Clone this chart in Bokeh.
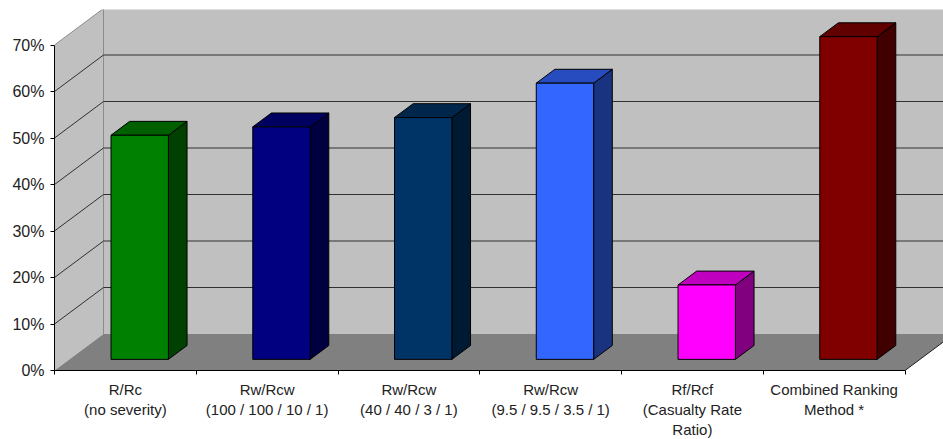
from bokeh.plotting import figure
from bokeh.embed import file_html
from bokeh.resources import INLINE
from bokeh.models import FixedTicker, Range1d

# ---- data ----
categories = ["R/Rc\n(no severity)", "Rw/Rcw\n(100 / 100 / 10 / 1)", "Rw/Rcw\n(40 / 40 / 3 / 1)",
              "Rw/Rcw\n(9.5 / 9.5 / 3.5 / 1)", "Rf/Rcf\n(Casualty Rate\nRatio)", "Combined Ranking\nMethod *"]
values = [48.2, 50.0, 52.0, 59.4, 16.0, 69.4]
front_colors = ["#008000", "#000080", "#003366", "#3366FF", "#FF00FF", "#800000"]
top_colors = ["#006000", "#000060", "#00264C", "#264CBF", "#BF00BF", "#600000"]
side_colors = ["#004000", "#000040", "#001A33", "#1A3380", "#800080", "#400000"]
y_ticks = [0, 10, 20, 30, 40, 50, 60, 70]

# ---- 3D box geometry, in axis units ----
SLOT_PX, PCT_PX = 141.75, 4.65
DX, DY = 49 / SLOT_PX, 36.5 / PCT_PX
BAR_W = 57.4 / SLOT_PX
D0, D1 = 0.305, 0.685
BAR_SHIFT = (1 - BAR_W) / 2 - 0.6 / SLOT_PX
N = len(categories)
FRAME_W, FRAME_H = 889, 361
XMAX, YMAX = FRAME_W / SLOT_PX, FRAME_H / PCT_PX

p = figure(width=943, height=439, output_backend="svg", toolbar_location=None,
           x_range=Range1d(0, XMAX), y_range=Range1d(0, YMAX),
           frame_width=FRAME_W, frame_height=FRAME_H,
           min_border_left=54, min_border_right=0, min_border_top=9, min_border_bottom=69)
p.outline_line_color = None
p.grid.visible = False
p.background_fill_color = "white"


def pr(x, y, d):
    return x + d * DX, y + d * DY


def face(pts):
    xs, ys = zip(*pts)
    return list(xs), list(ys)


WALL, FLOOR = "#C0C0C0", "#808080"
# back wall, side wall, floor
for pts, col in [([pr(0, 0, 1), pr(XMAX + 1, 0, 1), pr(XMAX + 1, 70, 1), pr(0, 70, 1)], WALL),
                 ([pr(0, 0, 0), pr(0, 0, 1), pr(0, 70, 1), pr(0, 70, 0)], WALL),
                 ([pr(0, 0, 0), pr(N, 0, 0), pr(N, 0, 1), pr(0, 0, 1)], FLOOR)]:
    xs, ys = face(pts)
    p.patch(xs, ys, fill_color=col, line_color=None)

# wall edges
edge = "#8C8C8C"
for a, b in [(pr(0, 0, 1), pr(0, 70, 1)), (pr(0, 70, 1), pr(XMAX + 1, 70, 1)), (pr(0, 70, 0), pr(0, 70, 1))]:
    p.line([a[0], b[0]], [a[1], b[1]], line_color=edge, line_width=1)

# gridlines on both walls
for t in y_ticks[1:-1]:
    a, b, c = pr(0, t, 0), pr(0, t, 1), pr(XMAX + 1, t, 1)
    p.line([a[0], b[0], c[0]], [a[1], b[1], c[1]], line_color="#303030", line_width=1)

# floor's right edge
a, b = pr(N, 0, 0), pr(N, 0, 1)
p.line([a[0], b[0]], [a[1], b[1]], line_color="#202020", line_width=1)

# bars
for i, v in enumerate(values):
    l, r = i + BAR_SHIFT, i + BAR_SHIFT + BAR_W
    for pts, col in [([pr(r, 0, D0), pr(r, 0, D1), pr(r, v, D1), pr(r, v, D0)], side_colors[i]),
                     ([pr(l, v, D0), pr(r, v, D0), pr(r, v, D1), pr(l, v, D1)], top_colors[i]),
                     ([pr(l, 0, D0), pr(r, 0, D0), pr(r, v, D0), pr(l, v, D0)], front_colors[i])]:
        xs, ys = face(pts)
        p.patch(xs, ys, fill_color=col, line_color="black", line_width=1)

# axes
ax = p.xaxis[0]
ax.ticker = FixedTicker(ticks=[i + 0.5 for i in range(N)], minor_ticks=list(range(N + 1)))
ax.major_label_overrides = {i + 0.5: c for i, c in enumerate(categories)}
ax.bounds = (0, N)
ax.major_tick_in = 0
ax.major_tick_out = 0
ax.minor_tick_in = 0
ax.minor_tick_out = 4
ax.minor_tick_line_color = "black"
ax.axis_line_color = "black"
ax.major_label_text_font = "Liberation Sans"
ax.major_label_text_font_size = "15px"
ax.major_label_text_color = "#222222"
ax.major_label_text_line_height = 1.2
ax.major_label_standoff = 6
ax.major_label_orientation = "horizontal"

ay = p.yaxis[0]
ay.ticker = FixedTicker(ticks=y_ticks, minor_ticks=[])
ay.bounds = (0, 70)
ay.major_label_overrides = {t: f"{t}%" for t in y_ticks}
ay.major_tick_in = 0
ay.major_tick_out = 4
ay.major_tick_line_color = "black"
ay.minor_tick_line_color = None
ay.axis_line_color = "black"
ay.major_label_text_font = "Liberation Sans"
ay.major_label_text_font_size = "16px"
ay.major_label_text_color = "#222222"
ay.major_label_standoff = 6

open("out.html", "w").write(file_html(p, INLINE))
